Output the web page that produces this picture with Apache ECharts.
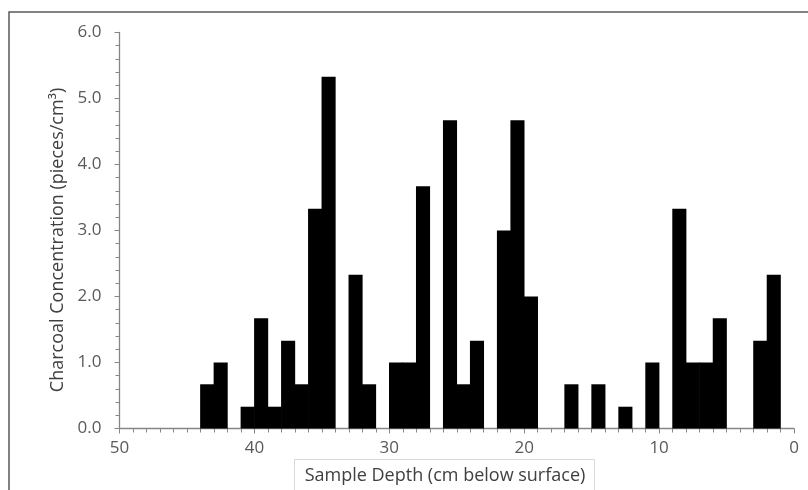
<!DOCTYPE html>
<html>
<head>
<meta charset="utf-8">
<script src="https://cdn.jsdelivr.net/npm/echarts@6/dist/echarts.min.js"></script>
<style>
html,body{margin:0;padding:0;background:#fff;}
#chart{width:808px;height:490px;}
</style>
</head>
<body>
<div id="chart"></div>
<script>
// Deeper edge (cm) of each 1-cm sample interval with charcoal; interval spans depth -> depth-1
var depths = [44,43,41,40,39,38,37,36,35,33,32,30,29,28,26,25,24,22,21,20,17,15,13,11,9,8,7,6,3,2];
var concentrations = [0.67,1.0,0.33,1.67,0.33,1.33,0.67,3.33,5.33,2.33,0.67,1.0,1.0,3.67,4.67,0.67,1.33,3.0,4.67,2.0,0.67,0.67,0.33,1.0,3.33,1.0,1.0,1.67,1.33,2.33];
var xTitle = 'Sample Depth (cm below surface)';
var yTitle = 'Charcoal Concentration (pieces/cm\u00B3)';

var data = depths.map(function(d, i){ return [d, concentrations[i]]; });

var chart = echarts.init(document.getElementById('chart'), null, {renderer:'canvas'});
var labelColor = '#595959';
var axisColor = '#868686';
var font = '"Open Sans", "Noto Sans", sans-serif';

chart.setOption({
  animation: false,
  backgroundColor: '#fff',
  grid: {left: 119.5, right: 14, top: 32.5, bottom: 61.5, containLabel: false},
  xAxis: {
    type: 'value', min: 0, max: 50, interval: 10, inverse: true,
    axisLine: {show: true, onZero: false, lineStyle: {color: axisColor, width: 1.3}},
    axisTick: {show: true, length: 5, lineStyle: {color: axisColor}},
    minorTick: {show: true, splitNumber: 10, length: 4, lineStyle: {color: axisColor}},
    splitLine: {show: false},
    axisLabel: {color: labelColor, fontFamily: font, fontSize: 17, margin: 11}
  },
  yAxis: {
    type: 'value', min: 0, max: 6, interval: 1,
    axisLine: {show: true, onZero: false, lineStyle: {color: axisColor, width: 1.3}},
    axisTick: {show: true, length: 5, lineStyle: {color: axisColor}},
    minorTick: {show: true, splitNumber: 5, length: 4, lineStyle: {color: axisColor}},
    splitLine: {show: false},
    axisLabel: {color: labelColor, fontFamily: font, fontSize: 17, margin: 18,
      formatter: function(v){ return v.toFixed(1); }}
  },
  series: [{
    type: 'custom',
    data: data,
    renderItem: function(params, api){
      var d = api.value(0), v = api.value(1);
      var p1 = api.coord([d, v]);
      var p2 = api.coord([d - 1, 0]);
      var x = Math.min(p1[0], p2[0]);
      var w = Math.abs(p2[0] - p1[0]);
      return {
        type: 'rect',
        shape: {x: x - 0.3, y: p1[1], width: w + 0.6, height: p2[1] - p1[1]},
        style: {fill: '#000'}
      };
    }
  }],
  graphic: [
    {type: 'rect', shape: {x: 9, y: 12, width: 820, height: 500},
     style: {fill: 'none', stroke: '#595959', lineWidth: 1.5}, silent: true, z: 0},
    {type: 'rect', shape: {x: 294.5, y: 459.5, width: 300, height: 50},
     style: {fill: '#fff', stroke: '#d9d9d9', lineWidth: 1}, silent: true},
    {type: 'text', x: 445, y: 476,
     style: {text: xTitle, fill: '#404040', font: '18px ' + font, textAlign: 'center', textVerticalAlign: 'middle'}},
    {type: 'text', x: 58, y: 240, rotation: Math.PI / 2,
     style: {text: yTitle, fill: '#404040', font: '18px ' + font, textAlign: 'center', textVerticalAlign: 'middle'}}
  ]
});
</script>
</body>
</html>
